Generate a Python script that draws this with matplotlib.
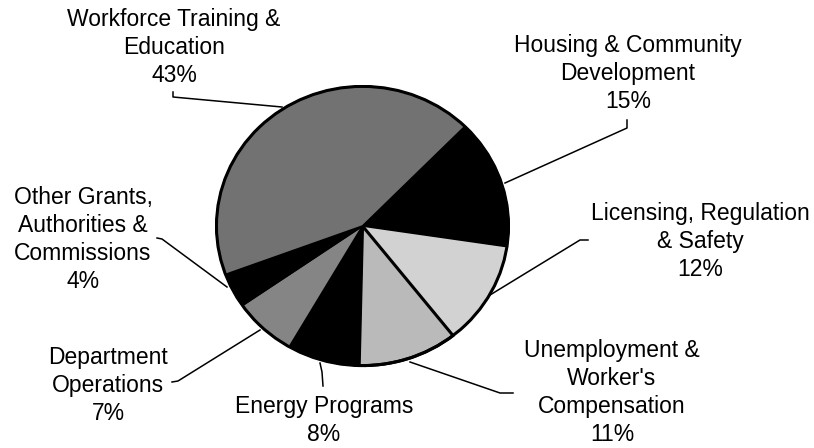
import matplotlib.pyplot as plt

# Slice data, clockwise from the upper right
categories = [
    "Housing & Community\nDevelopment",
    "Licensing, Regulation\n& Safety",
    "Unemployment &\nWorker's\nCompensation",
    "Energy Programs",
    "Department\nOperations",
    "Other Grants,\nAuthorities &\nCommissions",
    "Workforce Training &\nEducation",
]
shares = [15, 12, 11, 8, 7, 4, 43]
slice_colors = ["#000000", "#d2d2d2", "#bababa", "#000000",
                "#858585", "#000000", "#727272"]

# Label placement in pixel coords (x, y down = middle of first line)
label_pos = [(628, 45), (700, 213), (612, 350), (324, 406),
             (108, 357), (83, 197), (174, 19)]
leaders = [
    [(627, 120), (627, 128), (505, 183)],
    [(588, 240), (580, 240), (490, 295)],
    [(513, 393), (500, 393), (410, 362)],
    [(323, 386), (322, 372), (320, 363)],
    [(172, 382), (178, 381), (260, 330)],
    [(157, 238), (162, 239), (227, 287)],
    [(173, 92), (173, 97), (282, 107)],
]

W, H = 814, 448
fig = plt.figure(figsize=(W / 100, H / 100), dpi=100)
fig.patch.set_facecolor("white")

# Pie in its own axes so the slight ellipse of the original is kept
pie_left, pie_right, pie_top, pie_bottom = 215, 510, 85, 367
pax = fig.add_axes([
    pie_left / W,
    1 - pie_bottom / H,
    (pie_right - pie_left) / W,
    (pie_bottom - pie_top) / H,
])
wedges, _ = pax.pie(
    shares,
    colors=slice_colors,
    startangle=45.5,
    counterclock=False,
    radius=1,
    wedgeprops=dict(edgecolor="black", linewidth=1.2),
)
# thicker divider between the two light slices
wedges[2].set_linewidth(2.2)
pax.set_aspect("auto")
pax.set_xlim(-1.01, 1.01)
pax.set_ylim(-1.01, 1.01)
pax.axis("off")
outline = plt.Circle((0, 0), 1, fill=False, edgecolor="black", linewidth=2.2)
pax.add_patch(outline)

# Overlay in pixel coordinates for labels and leader lines
ax = fig.add_axes([0, 0, 1, 1], facecolor="none")
ax.set_xlim(0, W)
ax.set_ylim(H, 0)
ax.axis("off")

for name, pct, (x, y), path in zip(categories, shares, label_pos, leaders):
    ax.text(x, y - 11, f"{name}\n{pct}%", ha="center", va="top",
            fontsize=16.5, family=["Liberation Sans", "DejaVu Sans"],
            linespacing=1.27, color="black")
    xs, ys = zip(*path)
    ax.plot(xs, ys, color="black", linewidth=1.1)

fig.savefig("out.png", dpi=100)
